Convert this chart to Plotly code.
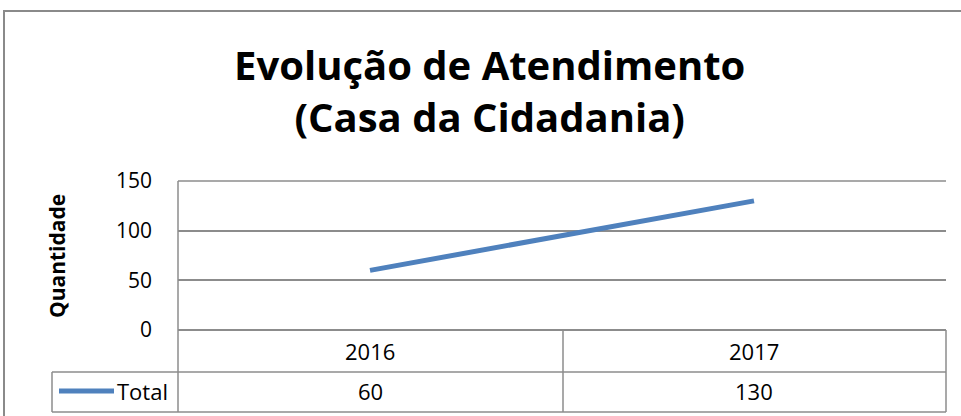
import plotly.graph_objects as go

categories = ["2016", "2017"]
total_values = [60, 130]
series_name = "Total"
y_ticks = [0, 50, 100, 150]
title_lines = ["Evolução de Atendimento", "(Casa da Cidadania)"]
y_title = "Quantidade"

W, H = 961, 416
FONT = "Open Sans"
GRID = "#8c8c8c"
BLUE = "#4F81BD"

def px(x):
    return x / W

def py(y):
    return 1 - y / H

fig = go.Figure()
fig.add_trace(go.Scatter(
    x=list(range(len(categories))), y=total_values, mode="lines", name=series_name,
    line=dict(color=BLUE, width=5), showlegend=False, hoverinfo="skip",
))

fig.update_layout(
    width=W, height=H,
    margin=dict(l=0, r=0, t=0, b=0, pad=0),
    paper_bgcolor="white", plot_bgcolor="white",
    font=dict(family=FONT, color="black"),
    xaxis=dict(
        range=[-0.5, len(categories) - 0.5],
        domain=[px(178), px(946)], automargin=False,
        showgrid=False, zeroline=False, showticklabels=False, showline=False,
    ),
    yaxis=dict(
        range=[0, 150], domain=[py(330), py(181)], automargin=False,
        tickvals=y_ticks, ticktext=[str(v) for v in y_ticks],
        showgrid=True, gridcolor=GRID, gridwidth=1.5,
        zeroline=True, zerolinecolor=GRID, zerolinewidth=1.5,
        showline=False, ticks="", ticklabelstandoff=25,
        tickfont=dict(family=FONT, size=21, color="black"),
    ),
)

shapes = []
def line(x0, y0, x1, y1, w=1.5, c=GRID):
    shapes.append(dict(type="line", xref="paper", yref="paper",
                       x0=px(x0), y0=py(y0), x1=px(x1), y1=py(y1),
                       line=dict(color=c, width=w)))

# chart outer border
shapes.append(dict(type="rect", xref="paper", yref="paper",
                   x0=px(4), y0=py(440), x1=px(990), y1=py(11),
                   line=dict(color="#8a8a8a", width=2)))
# top gridline (150)
line(178, 181, 946, 181)
# axis line through table
line(178, 181, 178, 412)
# data table
line(52, 372, 946, 372)
line(52, 412, 946, 412)
line(52, 372, 52, 412)
line(563, 330, 563, 412)
line(946, 330, 946, 412)
# legend key
shapes.append(dict(type="line", xref="paper", yref="paper",
                   x0=px(59), y0=py(391), x1=px(114), y1=py(391),
                   line=dict(color=BLUE, width=5)))
fig.update_layout(shapes=shapes)

ann = []
ann.append(dict(text="<b>" + "<br>".join(title_lines) + "</b>",
                xref="paper", yref="paper", x=px(489), y=py(90),
                xanchor="center", yanchor="middle", showarrow=False,
                font=dict(family=FONT, size=40, color="black")))
ann.append(dict(text="<b>" + y_title + "</b>", textangle=-90,
                xref="paper", yref="paper", x=px(57), y=py(256),
                xanchor="center", yanchor="middle", showarrow=False,
                font=dict(family=FONT, size=21, color="black")))
for i, (c, v) in enumerate(zip(categories, total_values)):
    ann.append(dict(text=c, xref="x", yref="paper", x=i, y=py(351),
                    xanchor="center", yanchor="middle", showarrow=False,
                    font=dict(family=FONT, size=22, color="black")))
    ann.append(dict(text=str(v), xref="x", yref="paper", x=i, y=py(391),
                    xanchor="center", yanchor="middle", showarrow=False,
                    font=dict(family=FONT, size=22, color="black")))
ann.append(dict(text=series_name, xref="paper", yref="paper", x=px(115), y=py(391),
                xanchor="left", yanchor="middle", showarrow=False,
                font=dict(family=FONT, size=22, color="black")))
fig.update_layout(annotations=ann)

fig.write_html("out.html", config={"displayModeBar": False},
               post_script="document.body.style.margin='0';")
